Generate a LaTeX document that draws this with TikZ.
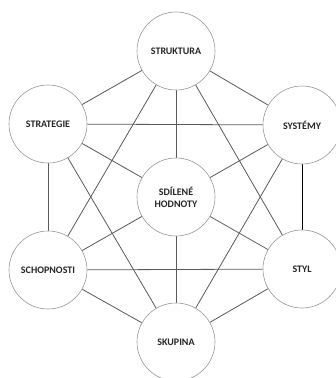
\documentclass[tikz,border=0pt]{standalone}
\usepackage{fontspec}
\setmainfont{Carlito}
\usetikzlibrary{backgrounds}
\begin{document}
\begin{tikzpicture}[x=1pt,y=-1pt,
  elem/.style={circle,draw=black!40,fill=white,line width=0.6pt,minimum size=78pt,inner sep=0pt,align=center,font=\bfseries\fontsize{10}{12}\selectfont,text=black!85},
  link/.style={draw=black!65,line width=0.8pt},
  darklink/.style={draw=black,line width=1pt}]
\useasboundingbox (0,0) rectangle (336,378);
\node[elem] (struk) at (176,51) {STRUKTURA};
\node[elem] (strat) at (48,124) {STRATEGIE};
\node[elem] (syst) at (302,125) {SYSTÉMY};
\node[elem] (sdil) at (176,197) {SDÍLENÉ\\HODNOTY};
\node[elem] (schop) at (48,270) {SCHOPNOSTI};
\node[elem] (styl) at (302,269) {STYL};
\node[elem] (skup) at (176,342) {SKUPINA};
\begin{scope}[on background layer]
\foreach \a/\b in {struk/strat,struk/syst,struk/schop,struk/styl,
  strat/syst,strat/schop,strat/skup,syst/skup,schop/styl,schop/skup,styl/skup,
  sdil/struk,sdil/strat,sdil/syst,sdil/schop,sdil/styl,sdil/skup}
  \draw[link] (\a) -- (\b);
\draw[darklink] (syst) -- (styl);
\end{scope}
\end{tikzpicture}
\end{document}
